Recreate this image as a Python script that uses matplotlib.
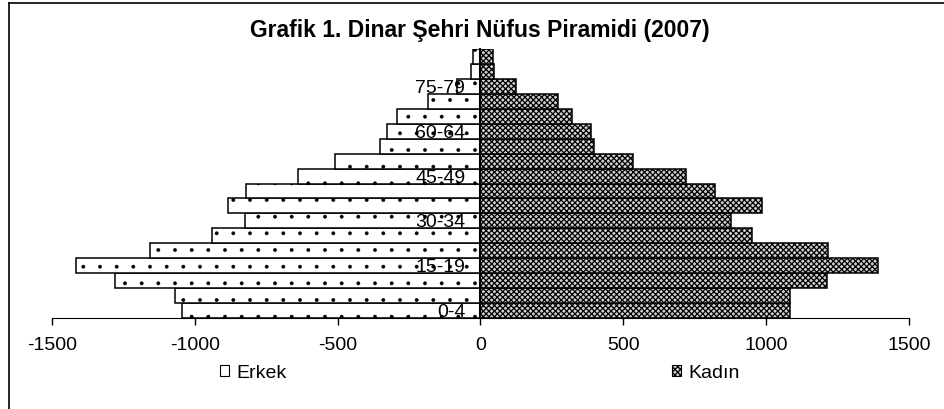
import numpy as np
import matplotlib.pyplot as plt
from matplotlib.patches import Patch
from matplotlib.lines import Line2D

plt.rcParams['font.family'] = ['Liberation Sans', 'DejaVu Sans']

# age groups, bottom to top
age_groups = ['0-4', '5-9', '10-14', '15-19', '20-24', '25-29', '30-34', '35-39',
              '40-44', '45-49', '50-54', '55-59', '60-64', '65-69', '70-74',
              '75-79', '80-84', '85+']
erkek = [1044, 1070, 1281, 1417, 1156, 939, 825, 885, 820, 640, 511, 353,
         327, 294, 185, 84, 33, 27]
kadin = [1083, 1083, 1212, 1392, 1218, 951, 876, 985, 821, 719, 533, 397,
         387, 321, 272, 125, 49, 44]
x_ticks = [-1500, -1000, -500, 0, 500, 1000, 1500]

y = np.arange(len(age_groups))

fig = plt.figure(figsize=(9.44, 4.09), dpi=100)
ax = fig.add_axes([52 / 944, 1 - 318 / 409, 857 / 944, 269 / 409])

# thinner hatch strokes for the dotted (male) bars
plt.rcParams['hatch.linewidth'] = 0.3
ax.barh(y, -np.array(erkek), height=1, facecolor='white', edgecolor='black',
        linewidth=1.1, hatch='.')
erkek_patch = Patch(facecolor='white', edgecolor='black', hatch='.', linewidth=0.8)
plt.rcParams['hatch.linewidth'] = 0.9
ax.barh(y, kadin, height=1, facecolor='#d0d0d0', edgecolor='black',
        linewidth=1.1, hatch='xxxxxx')
kadin_patch = Patch(facecolor='#d0d0d0', edgecolor='black', hatch='xxxxxx', linewidth=0.8)

ax.set_xlim(-1500, 1500)
ax.set_ylim(-0.5, len(age_groups) - 0.5)
ax.set_xticks(x_ticks)
ax.set_xticklabels([str(v) for v in x_ticks], fontsize=14)
ax.tick_params(axis='x', direction='out', length=5, width=1, pad=9)

# category axis sits at zero
ax.spines['left'].set_position(('data', 0))
ax.spines['left'].set_linewidth(1.5)
ax.spines['left'].set_zorder(3)
ax.spines['right'].set_visible(False)
ax.spines['top'].set_visible(False)
ax.set_yticks(y[::3])
ax.set_yticklabels(age_groups[::3], fontsize=14)
ax.tick_params(axis='y', length=0, pad=11)

fig.text(0.5085, 1 - 31 / 409, 'Grafik 1. Dinar Şehri Nüfus Piramidi (2007)',
         fontsize=16.5, fontweight='bold', ha='center', va='center')

fig.legend([erkek_patch, kadin_patch], ['Erkek', 'Kadın'], ncol=2, loc='center',
           bbox_to_anchor=(480 / 944, 1 - 373 / 409), frameon=False, fontsize=14,
           handlelength=0.45, handleheight=0.45, handletextpad=0.4,
           columnspacing=19.8)

# outer chart border (left and top visible)
fig.add_artist(Line2D([8.5 / 944, 8.5 / 944], [0, 1 - 2.5 / 409],
                      color='black', linewidth=1.2))
fig.add_artist(Line2D([8.5 / 944, 1], [1 - 2.5 / 409, 1 - 2.5 / 409],
                      color='black', linewidth=1.2))

fig.savefig('out.png', dpi=100)
